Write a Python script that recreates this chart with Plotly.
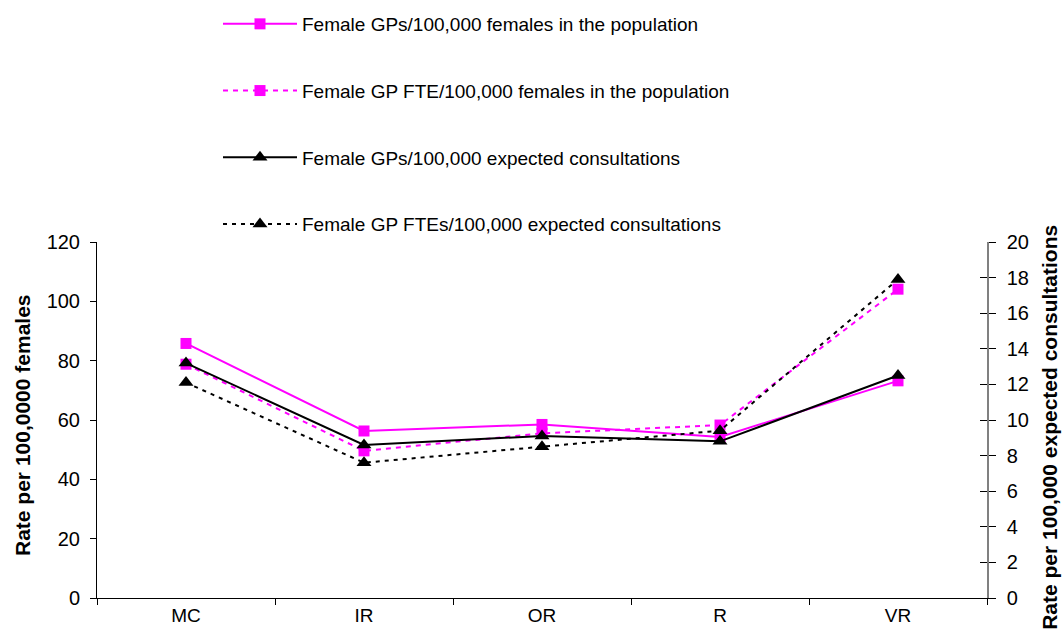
import plotly.graph_objects as go

# Rurality categories along the x axis
categories = ["MC", "IR", "OR", "R", "VR"]

# Rates per 100,000 females (left axis)
gps_per_females = [85.8, 56.3, 58.5, 54.3, 73.2]
fte_per_females = [78.8, 49.6, 55.5, 58.3, 104.1]

# Rates per 100,000 expected consultations (right axis)
gps_per_consult = [13.2, 8.6, 9.1, 8.8, 12.5]
fte_per_consult = [12.1, 7.6, 8.5, 9.4, 17.9]

names = [
    "Female GPs/100,000 females in the population",
    "Female GP FTE/100,000 females in the population",
    "Female GPs/100,000 expected consultations",
    "Female GP FTEs/100,000 expected consultations",
]

PINK = "#FF00FF"
BLACK = "#000000"
FONT = "Liberation Sans, Arial, sans-serif"

fig = go.Figure()

fig.add_trace(go.Scatter(
    x=categories, y=gps_per_females, name=names[0], mode="lines+markers",
    line=dict(color=PINK, width=2), legendgroup="a",
    marker=dict(symbol="square", size=11, color=PINK), yaxis="y"))
fig.add_trace(go.Scatter(
    x=categories, y=fte_per_females, name=names[1], mode="lines+markers",
    line=dict(color=PINK, width=2, dash="5px,5px"), legendgroup="b",
    marker=dict(symbol="square", size=11, color=PINK), yaxis="y"))
fig.add_trace(go.Scatter(
    x=categories, y=gps_per_consult, name=names[2], mode="lines+markers",
    line=dict(color=BLACK, width=2), legendgroup="c",
    marker=dict(symbol="triangle-up", size=13, color=BLACK), yaxis="y2"))
fig.add_trace(go.Scatter(
    x=categories, y=fte_per_consult, name=names[3], mode="lines+markers",
    line=dict(color=BLACK, width=2, dash="4px,5px"), legendgroup="d",
    marker=dict(symbol="triangle-up", size=13, color=BLACK), yaxis="y2"))

W, H = 1064, 644
L, R, T, B = 97, 77, 242, 46
PW = W - L - R

fig.update_layout(
    width=W, height=H,
    margin=dict(l=L, r=R, t=T, b=B, pad=0, autoexpand=False),
    paper_bgcolor="white", plot_bgcolor="white",
    font=dict(family=FONT, size=19, color="black"),
    showlegend=True,
    legend=dict(
        x=(218 - L) / PW, y=1 + (T - 5) / (H - T - B),
        xanchor="left", yanchor="top",
        traceorder="grouped", tracegroupgap=39, itemwidth=74,
        font=dict(family=FONT, size=19, color="black"),
        bgcolor="rgba(0,0,0,0)",
    ),
    xaxis=dict(
        type="category", range=[-0.5, 4.5],
        showline=True, linecolor="black", linewidth=1,
        ticks="outside", tickson="boundaries", ticklen=6, tickcolor="black",
        showgrid=False, zeroline=False,
        tickfont=dict(family=FONT, size=19),
    ),
    yaxis=dict(
        range=[0, 120], dtick=20, side="left",
        showline=True, linecolor="black", linewidth=1,
        ticks="outside", ticklen=6, tickcolor="black",
        ticklabelstandoff=6,
        showgrid=False, zeroline=False,
        tickfont=dict(family=FONT, size=20),
    ),
    yaxis2=dict(
        range=[0, 20], dtick=2, side="right", overlaying="y",
        showline=True, linecolor="#808080", linewidth=1.5,
        ticks="outside", ticklen=7, tickcolor="black",
        ticklabelstandoff=7,
        showgrid=False, zeroline=False,
        tickfont=dict(family=FONT, size=20),
    ),
    # inner half of the crossing ticks on the right axis
    yaxis3=dict(
        range=[0, 20], dtick=2, side="right", overlaying="y",
        showline=False, ticks="inside", ticklen=7, tickcolor="black",
        showticklabels=False, showgrid=False, zeroline=False,
    ),
)

# axis titles
fig.add_annotation(
    text="<b>Rate per 100,0000 females</b>", textangle=-90,
    xref="paper", yref="paper", x=-74 / PW, y=0.486,
    xanchor="center", yanchor="middle", showarrow=False,
    font=dict(family=FONT, size=21, color="black"))
fig.add_annotation(
    text="<b>Rate per 100,000 expected consultations</b>", textangle=-90,
    xref="paper", yref="paper", x=1 + 63 / PW, y=0.478,
    xanchor="center", yanchor="middle", showarrow=False,
    font=dict(family=FONT, size=21, color="black"))

# dummy trace so the inner-tick axis is drawn
fig.add_trace(go.Scatter(x=[categories[0]], y=[None], yaxis="y3",
                         showlegend=False, hoverinfo="skip"))

fig.write_html("out.html")
